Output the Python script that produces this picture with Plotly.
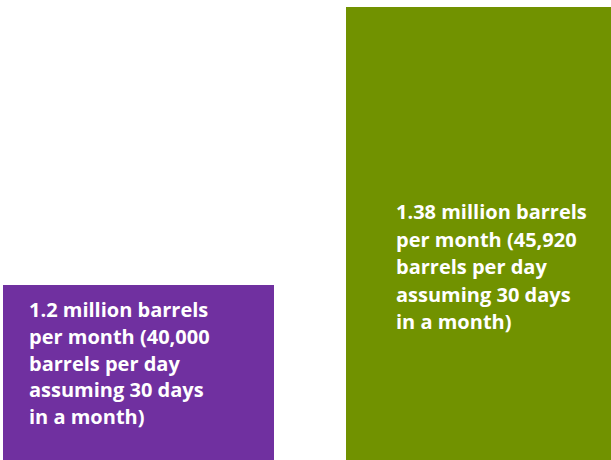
import plotly.graph_objects as go

categories = ["Before", "After"]
values = [1.2, 1.38]  # million barrels per month
colors = ["#7030A0", "#719200"]
labels = [
    ["1.2 million barrels", "per month (40,000", "barrels per day", "assuming 30 days", "in a month)"],
    ["1.38 million barrels", "per month (45,920", "barrels per day", "assuming 30 days", "in a month)"],
]

W, H = 611, 460
xpos = [0, 1]

fig = go.Figure()
fig.add_trace(go.Bar(
    x=xpos, y=values, width=0.79,
    marker=dict(color=colors, line=dict(width=0)),
    hoverinfo="skip", showlegend=False,
))

# text blocks: left offset within bar (x units), first line top (px from top)
text_x = [-0.395 + 0.070, 1 - 0.395 + 0.140]
first_top = [294, 196]
line_gap = [26.8, 27.6]
for i, lines in enumerate(labels):
    for j, ln in enumerate(lines):
        fig.add_annotation(
            x=text_x[i], xref="x", xanchor="left",
            y=1 - (first_top[i] + j * line_gap[i]) / H, yref="paper", yanchor="top",
            text=ln, showarrow=False, align="left",
            font=dict(family="Open Sans", size=20, color="white", weight="bold"),
        )

fig.update_layout(
    width=W, height=H,
    margin=dict(l=0, r=0, t=0, b=0),
    paper_bgcolor="white", plot_bgcolor="white",
    xaxis=dict(range=[-0.4038, 1.3776], visible=False, fixedrange=True),
    yaxis=dict(range=[1.08669, 1.38453], visible=False, fixedrange=True),
    bargap=0,
)
fig.write_html("out.html")
